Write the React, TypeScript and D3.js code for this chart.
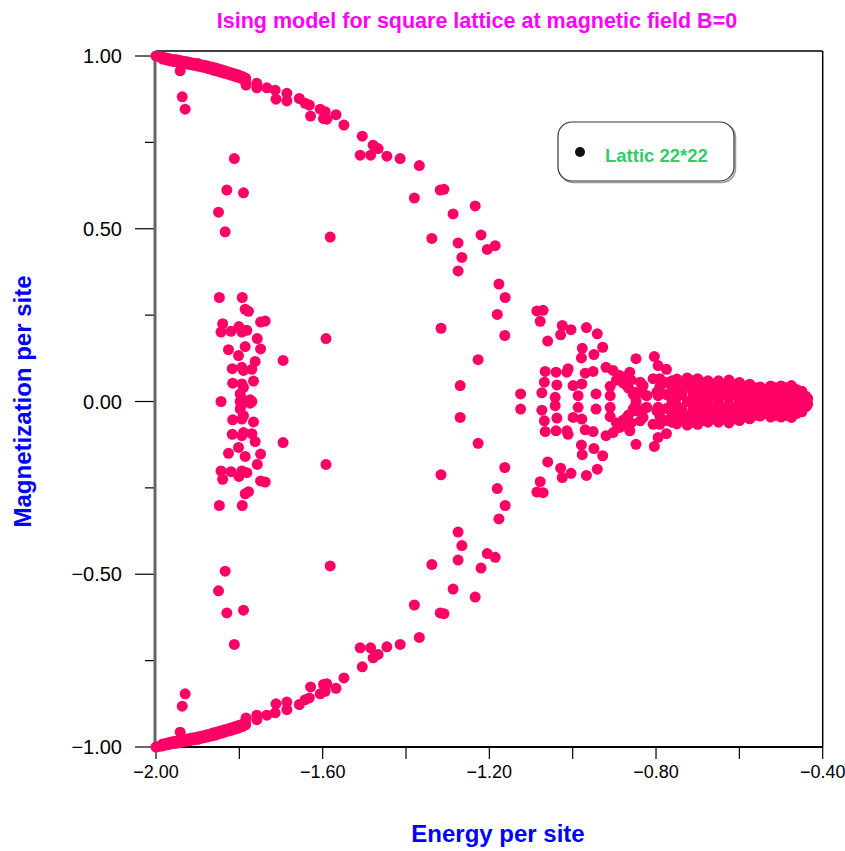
import React from 'react';
import * as d3 from 'd3';

// ---- axis ticks ----
const xMajorTicks = [-2.0, -1.6, -1.2, -0.8, -0.4];
const xMinorTicks = [-1.8, -1.4, -1.0, -0.6];
const yMajorTicks = [-1.0, -0.5, 0.0, 0.5, 1.0];
const yMinorTicks = [-0.75, -0.25, 0.25, 0.75];

// ---- data: [energy per site, magnetization values at that energy] ----
// dense ground-state band (upper and lower branches)
const groundBand: [number, number[]][] = [
  [-2.000, [1.000, -1.000]],
  [-1.992, [0.998, -0.998]],
  [-1.984, [0.997, 0.991, -0.997, -0.991]],
  [-1.975, [0.994, 0.989, -0.994, -0.989]],
  [-1.967, [0.992, 0.986, -0.992, -0.986]],
  [-1.958, [0.990, 0.984, -0.990, -0.984]],
  [-1.950, [0.989, 0.983, -0.989, -0.983]],
  [-1.942, [0.987, 0.981, 0.957, -0.987, -0.981, -0.957]],
  [-1.934, [0.985, 0.979, -0.985, -0.979]],
  [-1.925, [0.983, 0.977, -0.983, -0.977]],
  [-1.917, [0.981, 0.975, -0.981, -0.975]],
  [-1.909, [0.979, 0.973, -0.979, -0.973]],
  [-1.900, [0.978, 0.971, -0.978, -0.971]],
  [-1.892, [0.975, 0.969, -0.975, -0.969]],
  [-1.884, [0.973, 0.967, -0.973, -0.967]],
  [-1.876, [0.971, 0.964, -0.971, -0.964]],
  [-1.867, [0.968, 0.961, -0.968, -0.961]],
  [-1.859, [0.966, 0.958, -0.966, -0.958]],
  [-1.851, [0.963, 0.956, -0.963, -0.956]],
  [-1.843, [0.960, 0.953, -0.960, -0.953]],
  [-1.835, [0.957, 0.950, -0.957, -0.950]],
  [-1.826, [0.954, 0.947, -0.954, -0.947]],
  [-1.818, [0.951, 0.944, -0.951, -0.944]],
  [-1.810, [0.948, 0.941, -0.948, -0.941]],
  [-1.802, [0.945, 0.938, -0.945, -0.938]],
  [-1.793, [0.941, 0.934, -0.941, -0.934]],
  [-1.785, [0.936, 0.930, -0.936, -0.930]],
];

// outer arc of states
const arcStates: [number, number[]][] = [
  [-1.784, [0.916, -0.916]],
  [-1.758, [0.921, 0.908, -0.921, -0.908]],
  [-1.734, [0.908, -0.908]],
  [-1.714, [0.901, -0.901]],
  [-1.712, [0.875, -0.875]],
  [-1.686, [0.892, 0.870, -0.892, -0.870]],
  [-1.656, [0.877, -0.877]],
  [-1.642, [0.863, -0.863]],
  [-1.632, [0.858, -0.858]],
  [-1.629, [0.826, -0.826]],
  [-1.606, [0.846, -0.846]],
  [-1.598, [0.819, -0.819]],
  [-1.594, [0.839, -0.839]],
  [-1.590, [0.817, -0.817]],
  [-1.568, [0.830, -0.830]],
  [-1.549, [0.800, -0.800]],
  [-1.510, [0.713, -0.713]],
  [-1.505, [0.768, -0.768]],
  [-1.485, [0.713, -0.713]],
  [-1.479, [0.742, -0.742]],
  [-1.467, [0.732, -0.732]],
  [-1.446, [0.710, -0.710]],
  [-1.414, [0.703, -0.703]],
  [-1.380, [0.589, -0.589]],
  [-1.368, [0.683, -0.683]],
  [-1.338, [0.472, -0.472]],
  [-1.318, [0.612, -0.612]],
  [-1.316, [0.212, -0.212]],
  [-1.309, [0.614, -0.614]],
  [-1.287, [0.543, -0.543]],
  [-1.275, [0.459, 0.378, -0.459, -0.378]],
  [-1.270, [0.046, -0.046]],
  [-1.266, [0.417, -0.417]],
  [-1.234, [0.566, -0.566]],
  [-1.227, [0.121, -0.121]],
  [-1.220, [0.482, -0.482]],
  [-1.205, [0.440, -0.440]],
  [-1.186, [0.451, -0.451]],
  [-1.181, [0.252, -0.252]],
  [-1.177, [0.340, -0.340]],
  [-1.163, [0.191, -0.191]],
  [-1.162, [0.301, -0.301]],
];

// left cluster near E = -1.8
const leftCluster: [number, number[]][] = [
  [-1.937, [0.882, -0.882]],
  [-1.930, [0.846, -0.846]],
  [-1.850, [0.548, -0.548]],
  [-1.848, [0.301, -0.301]],
  [-1.844, [0.201, 0.000, -0.201]],
  [-1.840, [0.225, -0.225]],
  [-1.834, [0.491, -0.491]],
  [-1.830, [0.612, -0.612]],
  [-1.826, [0.150, -0.150]],
  [-1.820, [0.203, -0.203]],
  [-1.817, [0.095, -0.095]],
  [-1.816, [0.053, -0.053]],
  [-1.812, [0.703, -0.703]],
  [-1.802, [0.133, -0.133]],
  [-1.801, [0.217, -0.217]],
  [-1.798, [0.022, 0.000, -0.022]],
  [-1.794, [0.201, 0.099, 0.051, 0.008, -0.008, -0.051, -0.099, -0.201]],
  [-1.793, [0.301, -0.301]],
  [-1.790, [0.604, 0.090, 0.041, -0.041, -0.090, -0.604]],
  [-1.786, [0.267, 0.159, -0.159, -0.267]],
  [-1.782, [0.206, -0.206]],
  [-1.778, [0.261, -0.261]],
  [-1.774, [0.005, -0.005]],
  [-1.770, [0.093, 0.000, -0.093]],
  [-1.766, [0.059, -0.059]],
  [-1.762, [0.116, -0.116]],
  [-1.757, [0.182, -0.182]],
  [-1.749, [0.230, 0.152, -0.152, -0.230]],
  [-1.738, [0.233, -0.233]],
  [-1.695, [0.119, -0.119]],
  [-1.592, [0.182, -0.182]],
  [-1.582, [0.476, -0.476]],
];

// middle cluster near E = -1.1 .. -0.8
const midCluster: [number, number[]][] = [
  [-1.125, [0.022, -0.022]],
  [-1.086, [0.262, -0.262]],
  [-1.078, [0.232, -0.232]],
  [-1.074, [0.025, -0.025]],
  [-1.071, [0.264, -0.264]],
  [-1.068, [0.056, -0.056]],
  [-1.066, [0.087, -0.087]],
  [-1.060, [0.175, -0.175]],
  [-1.042, [0.012, -0.012]],
  [-1.040, [0.085, -0.085]],
  [-1.038, [0.048, -0.048]],
  [-1.029, [0.193, -0.193]],
  [-1.025, [0.220, -0.220]],
  [-1.014, [0.085, -0.085]],
  [-1.011, [0.095, -0.095]],
  [-1.004, [0.208, -0.208]],
  [-0.999, [0.046, -0.046]],
  [-0.987, [0.017, -0.017]],
  [-0.979, [0.126, -0.126]],
  [-0.978, [0.051, -0.051]],
  [-0.977, [0.154, -0.154]],
  [-0.970, [0.082, -0.082]],
  [-0.967, [0.214, -0.214]],
  [-0.951, [0.087, -0.087]],
  [-0.949, [0.136, -0.136]],
  [-0.944, [0.022, -0.022]],
  [-0.941, [0.196, -0.196]],
  [-0.928, [0.157, -0.157]],
  [-0.920, [0.099, -0.099]],
  [-0.910, [0.044, 0.017, -0.017, -0.044]],
  [-0.903, [0.090, -0.090]],
  [-0.895, [0.062, -0.062]],
  [-0.887, [0.075, -0.075]],
  [-0.879, [0.054, -0.054]],
  [-0.875, [0.070, -0.070]],
  [-0.870, [0.046, -0.046]],
  [-0.866, [0.039, -0.039]],
  [-0.863, [0.085, -0.085]],
  [-0.860, [0.062, -0.062]],
  [-0.855, [0.022, -0.022]],
  [-0.852, [0.017, -0.017]],
  [-0.848, [0.124, 0.027, 0.000, -0.027, -0.124]],
  [-0.838, [0.056, -0.056]],
  [-0.834, [0.027, -0.027]],
  [-0.831, [0.046, -0.046]],
  [-0.826, [0.019, -0.019]],
  [-0.822, [0.017, -0.017]],
  [-0.807, [0.066, -0.066]],
  [-0.804, [0.130, -0.130]],
  [-0.798, [0.027, -0.027]],
  [-0.795, [0.104, 0.017, -0.017, -0.104]],
  [-0.791, [0.066, 0.042, -0.042, -0.066]],
];

// dense high-energy tail
const tailCluster: [number, number[]][] = [
  [-0.775, [0.093, 0.055, 0.020, -0.020, -0.055, -0.093]],
  [-0.762, [0.060, 0.035, 0.000, -0.035, -0.060]],
  [-0.750, [0.065, 0.040, 0.012, -0.012, -0.040, -0.065]],
  [-0.738, [0.050, 0.020, -0.020, -0.050]],
  [-0.725, [0.068, 0.045, 0.000, -0.045, -0.068]],
  [-0.713, [0.060, 0.030, 0.008, -0.008, -0.030, -0.060]],
  [-0.700, [0.066, 0.040, 0.012, -0.012, -0.040, -0.066]],
  [-0.688, [0.055, 0.025, 0.000, -0.025, -0.055]],
  [-0.675, [0.060, 0.035, 0.008, -0.008, -0.035, -0.060]],
  [-0.663, [0.050, 0.020, -0.020, -0.050]],
  [-0.650, [0.060, 0.035, 0.000, -0.035, -0.060]],
  [-0.638, [0.050, 0.020, -0.020, -0.050]],
  [-0.625, [0.062, 0.035, 0.010, -0.010, -0.035, -0.062]],
  [-0.613, [0.050, 0.020, -0.020, -0.050]],
  [-0.600, [0.055, 0.030, 0.000, -0.030, -0.055]],
  [-0.588, [0.045, 0.015, -0.015, -0.045]],
  [-0.575, [0.050, 0.025, 0.000, -0.025, -0.050]],
  [-0.563, [0.040, 0.012, -0.012, -0.040]],
  [-0.550, [0.042, 0.020, 0.000, -0.020, -0.042]],
  [-0.538, [0.035, 0.010, -0.010, -0.035]],
  [-0.525, [0.045, 0.020, 0.000, -0.020, -0.045]],
  [-0.513, [0.040, 0.012, -0.012, -0.040]],
  [-0.500, [0.045, 0.020, 0.000, -0.020, -0.045]],
  [-0.488, [0.040, 0.012, -0.012, -0.040]],
  [-0.475, [0.046, 0.020, 0.000, -0.020, -0.046]],
  [-0.463, [0.035, 0.010, -0.010, -0.035]],
  [-0.450, [0.030, 0.008, -0.008, -0.030]],
  [-0.440, [0.015, 0.000, -0.015]],
  [-0.436, [0.008, -0.008]],
];

const legendLabel = 'Lattic 22*22';
const titleText = 'Ising model for square lattice at magnetic field B=0';
const xTitle = 'Energy per site';
const yTitle = 'Magnetization per site';

const W = 845;
const H = 851;
const FONT = "'Liberation Sans', Arial, Helvetica, sans-serif";
const POINT = '#FF0066';

export default function App() {
  const x = d3.scaleLinear().domain([-2.0, -0.4]).range([156, 822.7]);
  const y = d3.scaleLinear().domain([-1, 1]).range([747, 56]);
  const fmt = d3.format('.2f');

  const groups = [groundBand, arcStates, leftCluster, midCluster, tailCluster];
  const points: { e: number; m: number }[] = [];
  groups.forEach((g) => g.forEach(([e, ms]) => ms.forEach((m) => points.push({ e, m }))));

  const left = x(-2.0);
  const right = x(-0.4);
  const bottom = y(-1);
  const top = y(1) - 5;

  return (
    <svg width={W} height={H} style={{ position: 'absolute', left: 0, top: 0, background: '#fff' }} fontFamily={FONT}>
      <rect x={0} y={0} width={W} height={H} fill="#fff" />
      {/* title */}
      <text x={477} y={28} textAnchor="middle" fontSize={21.5} fontWeight="bold" fill="#FF00FF">
        {titleText}
      </text>

      {/* frame */}
      <line x1={left} x2={right} y1={top} y2={top} stroke="#000" strokeWidth={1.5} />
      <line x1={right} x2={right} y1={top} y2={bottom} stroke="#000" strokeWidth={1.5} />

      {/* y ticks */}
      {yMajorTicks.map((v) => (
        <g key={'ym' + v}>
          <line x1={left - 21} x2={left} y1={y(v)} y2={y(v)} stroke="#000" strokeWidth={1.2} />
          <text x={122} y={y(v) + 7} textAnchor="end" fontSize={20} fill="#000">
            {fmt(v)}
          </text>
        </g>
      ))}
      {yMinorTicks.map((v) => (
        <line key={'yn' + v} x1={left - 11} x2={left} y1={y(v)} y2={y(v)} stroke="#000" strokeWidth={1.2} />
      ))}

      {/* x ticks */}
      {xMajorTicks.map((v) => (
        <g key={'xm' + v}>
          <line x1={x(v)} x2={x(v)} y1={bottom} y2={bottom + 12} stroke="#000" strokeWidth={1.2} />
          <text x={x(v)} y={bottom + 31} textAnchor="middle" fontSize={18} fill="#000">
            {fmt(v)}
          </text>
        </g>
      ))}
      {xMinorTicks.map((v) => (
        <line key={'xn' + v} x1={x(v)} x2={x(v)} y1={bottom} y2={bottom + 12} stroke="#000" strokeWidth={1.2} />
      ))}

      {/* axes */}
      <line x1={left - 1} x2={right} y1={bottom} y2={bottom} stroke="#000" strokeWidth={2} />
      <line x1={left - 1} x2={left - 1} y1={top} y2={bottom} stroke="#666" strokeWidth={3} />

      {/* points */}
      {points.map((p, i) => (
        <circle key={i} cx={x(p.e)} cy={y(p.m)} r={5.5} fill={POINT} />
      ))}

      {/* legend */}
      <rect x={559.5} y={123.5} width={176} height={59} rx={14} fill="none" stroke="#999" strokeWidth={1.5} />
      <rect x={558} y={122} width={176} height={59} rx={14} fill="#fff" stroke="#333" strokeWidth={1.2} />
      <circle cx={580} cy={152} r={5} fill="#111" />
      <text x={605} y={162} fontSize={18.5} fontWeight="bold" fill="#33CC66">
        {legendLabel}
      </text>

      {/* axis titles */}
      <text x={498} y={842} textAnchor="middle" fontSize={24} fontWeight="bold" fill="#0000FF">
        {xTitle}
      </text>
      <text transform={`translate(31, ${y(0)}) rotate(-90)`} textAnchor="middle" fontSize={24} fontWeight="bold" fill="#0000FF">
        {yTitle}
      </text>
    </svg>
  );
}
